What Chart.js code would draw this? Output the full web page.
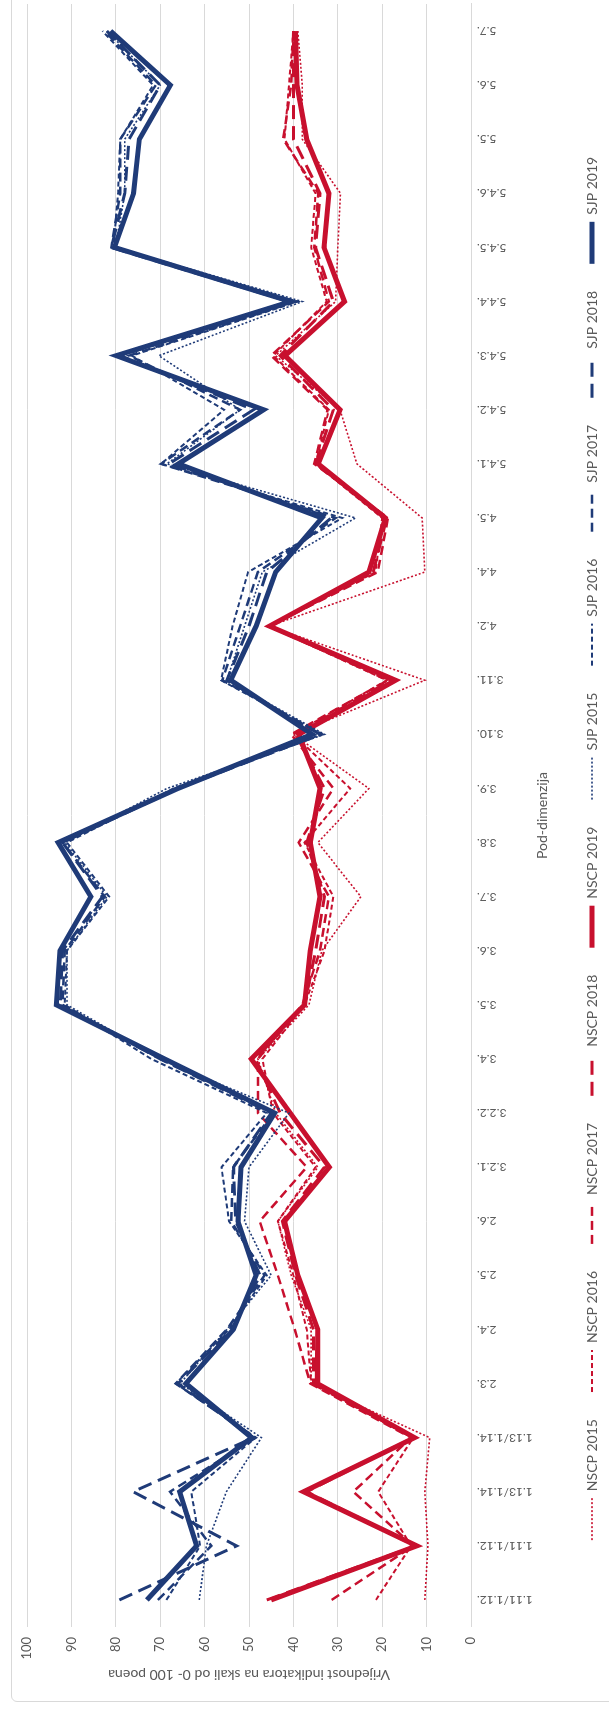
<!DOCTYPE html>
<html>
<head>
<meta charset="utf-8">
<script src="https://cdn.jsdelivr.net/npm/chart.js@4/dist/chart.umd.min.js"></script>
<style>
  html, body { margin: 0; padding: 0; background: #fff; width: 609px; height: 1713px; overflow: hidden; }
  /* the chart is drawn landscape and turned a quarter to the left */
  #wrap { position: absolute; left: 0; top: 0; width: 1713px; height: 609px; overflow: hidden; background: #fff;
          transform-origin: 0 0; transform: rotate(-90deg) translateX(-1713px); }
  #frame { position: absolute; left: 11px; top: 11px; width: 1730px; height: 640px; border: 1px solid #d9d9d9; border-radius: 6px; }
  #c { position: absolute; left: 0; top: 0; }
</style>
</head>
<body>
<div id="wrap"><div id="frame"></div><canvas id="c" width="1713" height="609"></canvas></div>
<script>
const categories = ['1.11/1.12.', '1.11/1.12.', '1.13/1.14.', '1.13/1.14.', '2.3.', '2.4.', '2.5.', '2.6.',
  '3.2.1.', '3.2.2.', '3.4.', '3.5.', '3.6.', '3.7.', '3.8.', '3.9.', '3.10.', '3.11.', '4.2.', '4.4.', '4.5.',
  '5.4.1.', '5.4.2.', '5.4.3.', '5.4.4.', '5.4.5.', '5.4.6.', '5.5.', '5.6.', '5.7.'];

const nscp2015 = [10.4, 9.7, 10.4, 9.3, 36, 36, 40.5, 43.5, 34.5, 44, 48, 36.5, 33.6, 24.8, 34.5, 23, 40, 10.4, 45.5, 10.4, 11, 25.7, 29.5, 44, 30.5, 30, 29.4, 38, 38, 39];
const nscp2016 = [21.4, 13.5, 20.9, 13, 36, 37, 40, 43.5, 35, 44.6, 47, 37.5, 33, 31, 37.5, 27.2, 40, 19, 45.5, 21.5, 20, 35, 32, 44.5, 32.5, 36, 35, 42, 41, 40];
const nscp2017 = [31.4, 13, 26.5, 13.5, 36.2, 39.7, 43.5, 47.6, 37, 48, 48, 38, 34, 32, 38.8, 31, 40.5, 18.7, 45.5, 21, 18.7, 35.3, 32.3, 45, 32, 35.3, 34.4, 42.3, 40.5, 40];
const nscp2018 = [46, 12.5, 37, 13, 35.5, 35.5, 39.5, 42.5, 33, 43, 48.5, 37.5, 35, 33, 37, 33, 39.5, 18, 45.5, 22, 19, 35, 31, 43, 31, 35, 34, 40, 40, 40];
const nscp2019 = [45, 12.2, 37.7, 12.7, 34.6, 34.5, 39, 42, 31.9, 40.7, 49.5, 37.5, 36.2, 34, 36.2, 34, 38.8, 17, 45.4, 23, 19.3, 34.4, 29.5, 41.9, 28.5, 33.1, 32, 37, 39.2, 39.5];

const sjp2015 = [61.2, 59.6, 55.1, 47.2, 65.5, 55, 45, 51, 50, 41, 70, 91, 91, 82, 91.5, 68.5, 33, 55, 51, 47, 26, 68.5, 52, 70.3, 38, 80, 78, 78, 70, 82];
const sjp2016 = [68.6, 61, 63, 48.5, 66.5, 54.5, 46, 54.5, 56.2, 46, 72, 91.5, 91, 81.5, 91, 67, 33.6, 56.3, 53.7, 50.2, 29, 69.8, 55.6, 76.4, 39, 80.5, 79.5, 79, 71.6, 83];
const sjp2017 = [70.5, 58.5, 67.8, 48.5, 66.5, 55, 46.5, 54, 53.6, 44.5, 70, 92, 91.5, 82.5, 92, 66.5, 33.5, 56, 52, 48, 30.5, 69.8, 52, 77, 39.5, 81, 79, 79, 71, 82.5];
const sjp2018 = [79.2, 52.8, 76.1, 49, 66, 54, 47.5, 53, 53.5, 45, 70, 92.5, 92, 83, 92, 66, 34, 55, 50, 46, 31.5, 68, 49, 79, 41, 81, 78, 77, 70, 82];
const sjp2019 = [73, 61.8, 65.6, 49.4, 64.2, 53.5, 48.4, 52.5, 51.8, 44.2, 69, 93.4, 92.6, 85.6, 93, 66, 35.8, 54.1, 48.4, 44, 33.6, 65.9, 46.7, 79.9, 40.6, 80.3, 76, 74.7, 67.7, 81.2];

const RED = '#c8102e';
const BLUE = '#1f3b78';
const TEXT = '#595959';

// line look per year: dotted, short dash, dash, long dash, solid
const yearStyle = {
  2015: { width: 1.6, dash: [2, 2] },
  2016: { width: 2, dash: [5, 3] },
  2017: { width: 2.5, dash: [9, 5] },
  2018: { width: 3, dash: [14, 7] },
  2019: { width: 5, dash: [] },
};

function series(label, data, color, year, idx) {
  const st = yearStyle[year];
  return {
    label: label,
    data: data,
    borderColor: color,
    backgroundColor: color,
    borderWidth: st.width,
    borderDash: st.dash,
    pointRadius: 0,
    pointHoverRadius: 0,
    tension: 0,
    fill: false,
    order: 20 - idx,
  };
}

const datasets = [
  series('NSCP 2015', nscp2015, RED, 2015, 0),
  series('NSCP 2016', nscp2016, RED, 2016, 1),
  series('NSCP 2017', nscp2017, RED, 2017, 2),
  series('NSCP 2018', nscp2018, RED, 2018, 3),
  series('NSCP 2019', nscp2019, RED, 2019, 4),
  series('SJP 2015', sjp2015, BLUE, 2015, 5),
  series('SJP 2016', sjp2016, BLUE, 2016, 6),
  series('SJP 2017', sjp2017, BLUE, 2017, 7),
  series('SJP 2018', sjp2018, BLUE, 2018, 8),
  series('SJP 2019', sjp2019, BLUE, 2019, 9),
];

Chart.defaults.font.family = 'Lato, "Open Sans", sans-serif';
Chart.defaults.color = TEXT;

// legend samples take the dash and width of their line
function legendItems(chart) {
  const items = Chart.defaults.plugins.legend.labels.generateLabels(chart);
  items.forEach((it) => {
    const ds = chart.data.datasets[it.datasetIndex];
    it.lineDash = ds.borderDash;
    it.lineWidth = ds.borderWidth;
    it.strokeStyle = ds.borderColor;
    it.fillStyle = ds.borderColor;
  });
  return items.sort((a, b) => a.datasetIndex - b.datasetIndex);
}

new Chart(document.getElementById('c'), {
  type: 'line',
  data: { labels: categories, datasets: datasets },
  options: {
    responsive: false,
    animation: false,
    devicePixelRatio: 1,
    layout: { padding: { left: 20, top: 27, right: 4, bottom: 0 } },
    plugins: {
      tooltip: { enabled: false },
      legend: {
        position: 'bottom',
        labels: {
          usePointStyle: true,
          pointStyle: 'line',
          pointStyleWidth: 42,
          boxHeight: 14,
          padding: 27,
          color: TEXT,
          font: { size: 14 },
          generateLabels: legendItems,
        },
      },
    },
    scales: {
      x: {
        offset: true,
        grid: { display: false, drawTicks: false },
        border: { display: true, color: '#d9d9d9' },
        ticks: { autoSkip: false, minRotation: 90, maxRotation: 90, padding: 6, color: TEXT, font: { size: 12 } },
        title: { display: true, text: 'Pod-dimenzija', color: TEXT, font: { size: 14 }, padding: { top: 0, bottom: 7 } },
        afterFit: (s) => { s.height = 87; },
      },
      y: {
        min: 0,
        max: 100,
        grid: { color: '#d9d9d9', drawTicks: false },
        border: { display: false },
        ticks: { stepSize: 10, padding: 10, color: TEXT, font: { size: 13 } },
        title: { display: true, text: 'Vrijednost indikatora na skali od 0- 100 poena', color: TEXT, font: { size: 14 }, padding: { top: 10, bottom: 0 } },
        afterFit: (s) => { s.width = 66; },
      },
    },
  },
});
</script>
</body>
</html>
